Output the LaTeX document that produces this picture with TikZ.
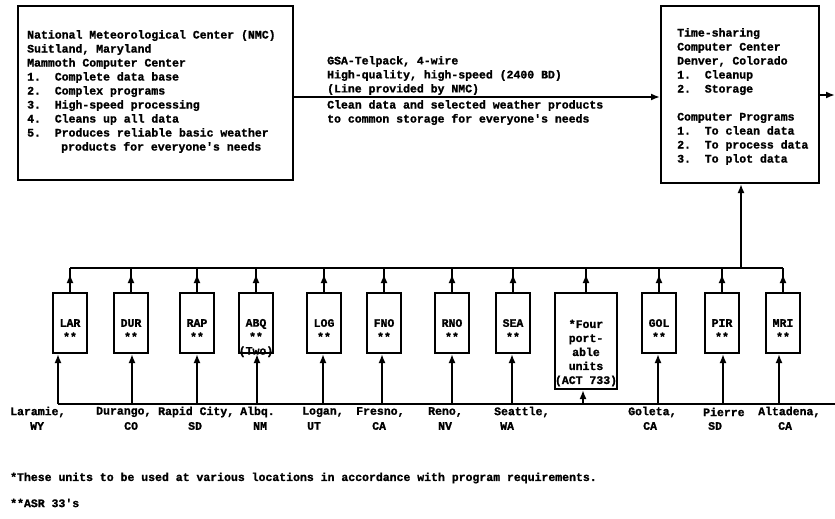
\documentclass[tikz,border=0pt]{standalone}
\usepackage{fontspec}
\usetikzlibrary{arrows.meta,decorations.markings,positioning}
\newfontfamily\typeFont[BoldFeatures={FakeBold=1.3}]{Liberation Mono}
\tikzstyle{chart} = [x = 1pt, y = -1pt]
\tikzstyle{typed} = [font=\typeFont\bfseries\fontsize{11.5}{14}\selectfont, inner sep=0pt, align=left]
\tikzstyle{centreBox} = [draw, line width=2pt, inner sep=0pt, anchor=north west]
\tikzstyle{stationBox} = [draw, line width=2pt, inner sep=0pt, minimum width=34pt, minimum height=60pt]
\tikzstyle{wire} = [line width=2pt]
\tikzstyle{feedArrow} = [wire, -{Latex[length=9pt,width=7pt]}]
\tikzstyle{busArrow} = [wire, postaction={decorate}, decoration={markings, mark=at position .75 with {\arrow{Latex[length=9pt,width=7pt]}}}]
\newcommand{\lowBusY}{404}
% #1 text shift, #2 name, #3 centre x, #4 feed x, #5 label
\newcommand{\station}[5][-7pt]{
  \node [stationBox] (#2) at (#3, 323) {};
  \node [typed, align=center] (#2Text) at ([yshift=#1]#2.center) {#5};
  \draw [busArrow] (#2.north) -- (#2.north |- topBus);
  \coordinate (#2Feed) at (#4, \lowBusY);
  \draw [feedArrow] (#2Feed) -- (#2Feed |- #2.south);
}
\newcommand{\town}[5]{
  \node [typed, anchor=west] (#1Name) at (#2, 412) {#3};
  \node [typed, anchor=west] (#1State) at (#4, 426) {#5};
}

\begin{document}
\begin{tikzpicture}[chart]
  \useasboundingbox (0,0) rectangle (835,519);

  % the two computer centres
  \node [centreBox, minimum width=275pt, minimum height=174pt] (nmc) at (17,5) {};
  \node [typed, anchor=north west] (nmcText) at (27,30) {National Meteorological Center (NMC)\\
    Suitland, Maryland\\
    Mammoth Computer Center\\
    1.\ \ Complete data base\\
    2.\ \ Complex programs\\
    3.\ \ High-speed processing\\
    4.\ \ Cleans up all data\\
    5.\ \ Produces reliable basic weather\\
    \hspace*{34pt}products for everyone's needs};
  \node [centreBox, minimum width=158pt, minimum height=177pt] (timeshare) at (660,5) {};
  \node [typed, anchor=north west] (timeshareText) at (677,28) {Time-sharing\\
    Computer Center\\
    Denver, Colorado\\
    1.\ \ Cleanup\\
    2.\ \ Storage\\[14pt]
    Computer Programs\\
    1.\ \ To clean data\\
    2.\ \ To process data\\
    3.\ \ To plot data};

  % telpack line
  \coordinate (linkRow) at (0,97);
  \coordinate (outRow) at (0,95);
  \coordinate (outEnd) at (835,95);
  \draw [feedArrow] (nmc.east |- linkRow) -- (timeshare.west |- linkRow);
  \draw [feedArrow] (timeshare.east |- outRow) -- (outEnd);
  \node [typed, anchor=south west] (linkAbove) at (327,95) {GSA-Telpack, 4-wire\\
    High-quality, high-speed (2400 BD)\\
    (Line provided by NMC)};
  \node [typed, anchor=north west] (linkBelow) at (327,100) {Clean data and selected weather products\\
    to common storage for everyone's needs};

  % stations
  \coordinate (topBus) at (0,268);
  \station{LAR}{70}{58}{LAR\\**}
  \station{DUR}{131}{132}{DUR\\**}
  \station{RAP}{197}{197}{RAP\\**}
  \station[-15pt]{ABQ}{256}{257}{ABQ\\**\\(Two)}
  \station{LOG}{324}{323}{LOG\\**}
  \station{FNO}{384}{382}{FNO\\**}
  \station{RNO}{452}{452}{RNO\\**}
  \station{SEA}{513}{512}{SEA\\**}
  \node [stationBox, minimum width=62pt, minimum height=96pt] (ACT) at (586,341) {};
  \node [typed, align=center] (ACTText) at ([yshift=-12pt]ACT.center) {*Four\\port-\\able\\units\\(ACT 733)};
  \draw [busArrow] (ACT.north) -- (ACT.north |- topBus);
  \coordinate (ACTFeed) at (583, \lowBusY);
  \draw [feedArrow] (ACTFeed) -- (ACTFeed |- ACT.south);
  \station{GOL}{659}{658}{GOL\\**}
  \station{PIR}{722}{723}{PIR\\**}
  \station{MRI}{783}{779}{MRI\\**}

  % buses
  \coordinate (storeFeed) at (741,268);
  \coordinate (lowEnd) at (835,\lowBusY);
  \draw [wire] (LAR.north |- topBus) -- (MRI.north |- topBus);
  \draw [feedArrow] (storeFeed) -- (storeFeed |- timeshare.south);
  \draw [wire] (LARFeed) -- (lowEnd);

  % places
  \town{lar}{10}{Laramie,}{30}{WY}
  \town{dur}{96}{Durango,}{124}{CO}
  \town{rap}{158}{Rapid City,}{188}{SD}
  \town{abq}{240}{Albq.}{253}{NM}
  \town{log}{302}{Logan,}{307}{UT}
  \town{fno}{356}{Fresno,}{372}{CA}
  \town{rno}{428}{Reno,}{438}{NV}
  \town{sea}{494}{Seattle,}{500}{WA}
  \town{gol}{628}{Goleta,}{643}{CA}
  \town{pir}{703}{Pierre}{708}{SD}
  \town{mri}{758}{Altadena,}{778}{CA}

  % notes
  \node [typed, anchor=west] (noteOne) at (10,478) {*These units to be used at various locations in accordance with program requirements.};
  \node [typed, anchor=west] (noteTwo) at (10,503) {**ASR 33's};
\end{tikzpicture}
\end{document}
